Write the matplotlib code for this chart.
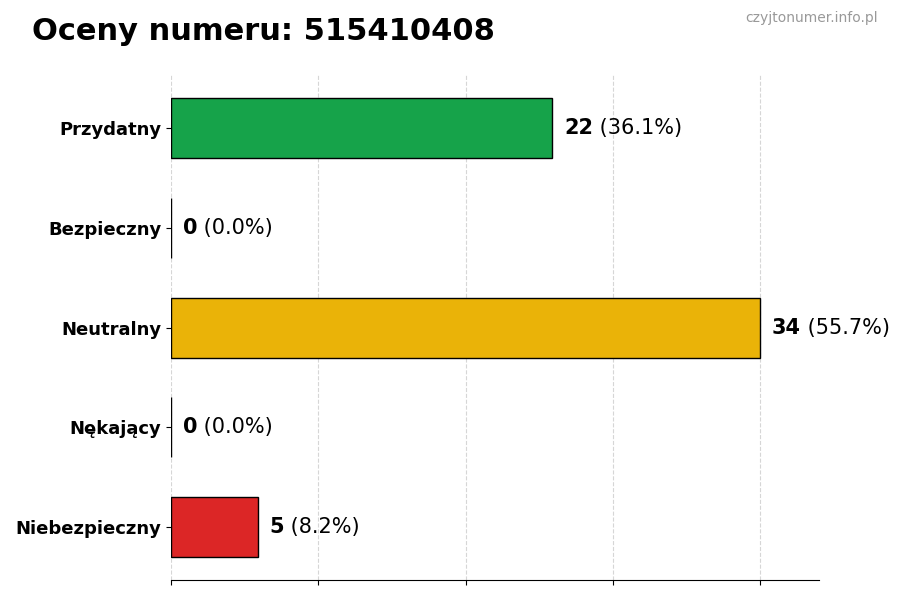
import numpy as np
import matplotlib.pyplot as plt

# data
categories = ["Przydatny", "Bezpieczny", "Neutralny", "Nękający", "Niebezpieczny"]
counts = [22, 0, 34, 0, 5]
colors = ["#16a34a", "#2563eb", "#eab308", "#f97316", "#dc2626"]
number = "515410408"

total = sum(counts)
max_val = max(counts)

fig, ax = plt.subplots(figsize=(9, 6), dpi=100)
fig.subplots_adjust(left=0.19, right=0.91, top=0.875, bottom=0.033)

y = np.arange(len(categories))
ax.barh(y, counts, height=0.6, color=colors, edgecolor="black", linewidth=1, zorder=3)
ax.set_yticks(y)
ax.set_yticklabels(categories, fontsize=13, fontweight="bold")
ax.invert_yaxis()

ax.set_xlim(0, max_val * 1.1)
ax.set_xticks(np.linspace(0, max_val, 5))
ax.set_xticklabels([])
ax.grid(axis="x", linestyle="--", color="#cccccc", alpha=0.8, zorder=0)

for s in ["top", "right", "left"]:
    ax.spines[s].set_visible(False)

# value labels: bold count + percentage
off = max_val * 0.02
for i, c in enumerate(counts):
    pct = c / total * 100
    t = ax.text(c + off, i, f"{c}", va="center", ha="left", fontsize=15, fontweight="bold")
    fig.canvas.draw()
    bb = t.get_window_extent()
    x_end = ax.transData.inverted().transform((bb.x1, bb.y0))[0]
    ax.text(x_end, i, f" ({pct:.1f}%)", va="center", ha="left", fontsize=15)

fig.text(0.035, 0.947, f"Oceny numeru: {number}", fontsize=22, fontweight="bold", va="center")
fig.text(0.975, 0.97, "czyjtonumer.info.pl", fontsize=10, color="#999999", ha="right", va="center")

plt.savefig("out.png", dpi=100)
